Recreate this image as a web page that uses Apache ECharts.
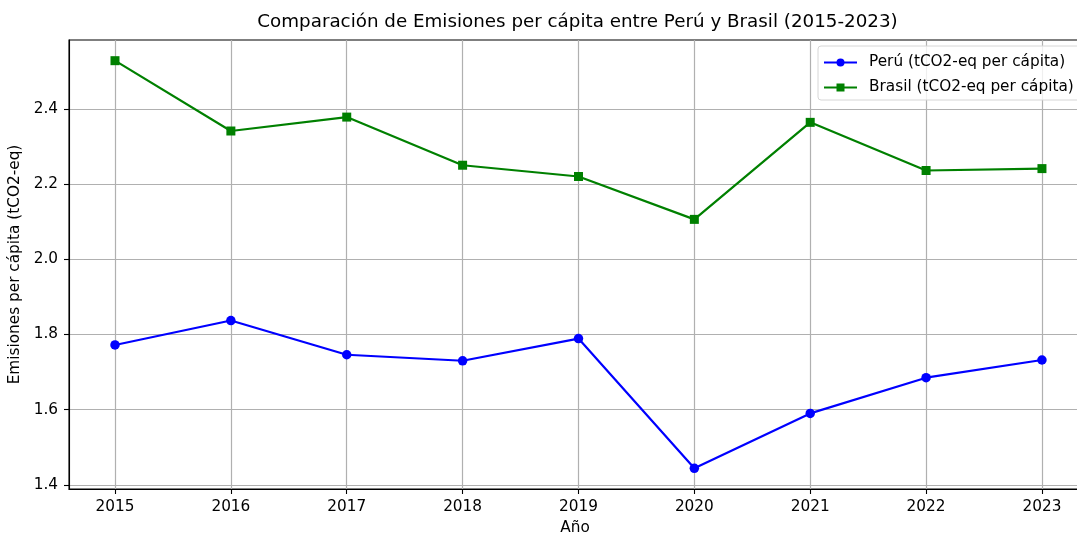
<!DOCTYPE html>
<html>
<head>
<meta charset="utf-8">
<script src="https://cdn.jsdelivr.net/npm/echarts@6/dist/echarts.min.js"></script>
<style>
html,body{margin:0;padding:0;background:#fff;width:1077px;height:533px;overflow:hidden;}
#chart{width:1077px;height:533px;overflow:hidden;}
</style>
</head>
<body>
<div id="chart"></div>
<script>
const years = [2015, 2016, 2017, 2018, 2019, 2020, 2021, 2022, 2023];
const peru = [1.772, 1.837, 1.746, 1.730, 1.789, 1.444, 1.590, 1.685, 1.732];
const brasil = [2.528, 2.341, 2.378, 2.250, 2.220, 2.106, 2.364, 2.236, 2.241];
const yTicks = [1.4, 1.6, 1.8, 2.0, 2.2, 2.4];
const titleText = 'Comparación de Emisiones per cápita entre Perú y Brasil (2015-2023)';
const peruName = 'Perú (tCO2-eq per cápita)';
const brasilName = 'Brasil (tCO2-eq per cápita)';
const xName = 'Año';
const yName = 'Emisiones per cápita (tCO2-eq)';

const FONT = 'DejaVu Sans';
const FS = 15.3;
const chart = echarts.init(document.getElementById('chart'), null, {renderer: 'canvas', width: 1077, height: 533});
const gridLine = {show: true, lineStyle: {color: '#b0b0b0', width: 1.2}};
chart.setOption({
  animation: false,
  backgroundColor: '#fff',
  textStyle: {fontFamily: FONT},
  graphic: [{
    type: 'text', x: 577.5, y: 22.5,
    style: {text: titleText, font: '18.3px "DejaVu Sans"', fill: '#000', textAlign: 'center', textVerticalAlign: 'middle'}
  }],
  grid: {
    left: 69, top: 40, width: 1012, height: 449,
    outerBoundsMode: 'none', containLabel: false,
    show: true, borderColor: '#000', borderWidth: 1.1, backgroundColor: 'transparent'
  },
  legend: {
    orient: 'vertical', left: 818, top: 46,
    itemWidth: 33, itemHeight: 10, itemGap: 10,
    padding: [9, 8, 5, 5],
    borderColor: '#d6d6d6', borderWidth: 1, borderRadius: 3,
    backgroundColor: 'rgba(255,255,255,0.8)',
    textStyle: {fontFamily: FONT, fontSize: FS, color: '#000', padding: [0, 0, 0, 7]},
    data: [peruName, brasilName]
  },
  xAxis: {
    type: 'value', min: 2014.603, max: 2023.337,
    name: xName, nameLocation: 'middle', nameGap: 32,
    nameTextStyle: {fontFamily: FONT, fontSize: FS, color: '#000'},
    axisLine: {show: true, onZero: false, lineStyle: {color: '#000', width: 1.1}},
    axisTick: {show: true, length: 5, lineStyle: {color: '#000', width: 1.1}, customValues: years},
    axisLabel: {fontFamily: FONT, fontSize: FS, color: '#000', margin: 11, customValues: years, formatter: v => String(v)},
    splitLine: gridLine
  },
  yAxis: {
    type: 'value', min: 1.389, max: 2.583,
    name: yName, nameLocation: 'middle', nameGap: 38,
    nameTextStyle: {fontFamily: FONT, fontSize: FS, color: '#000'},
    axisLine: {show: true, lineStyle: {color: '#000', width: 1.1}},
    axisTick: {show: true, length: 5, lineStyle: {color: '#000', width: 1.1}, customValues: yTicks},
    axisLabel: {fontFamily: FONT, fontSize: FS, color: '#000', margin: 11, customValues: yTicks, formatter: v => v.toFixed(1)},
    splitLine: gridLine
  },
  series: [
    {
      name: peruName, type: 'line',
      data: years.map((y, i) => [y, peru[i]]),
      symbol: 'circle', symbolSize: 9.5,
      lineStyle: {color: '#0000ff', width: 2.2},
      itemStyle: {color: '#0000ff'}
    },
    {
      name: brasilName, type: 'line',
      data: years.map((y, i) => [y, brasil[i]]),
      symbol: 'rect', symbolSize: 9,
      lineStyle: {color: '#008000', width: 2.2},
      itemStyle: {color: '#008000'}
    }
  ]
});
</script>
</body>
</html>
